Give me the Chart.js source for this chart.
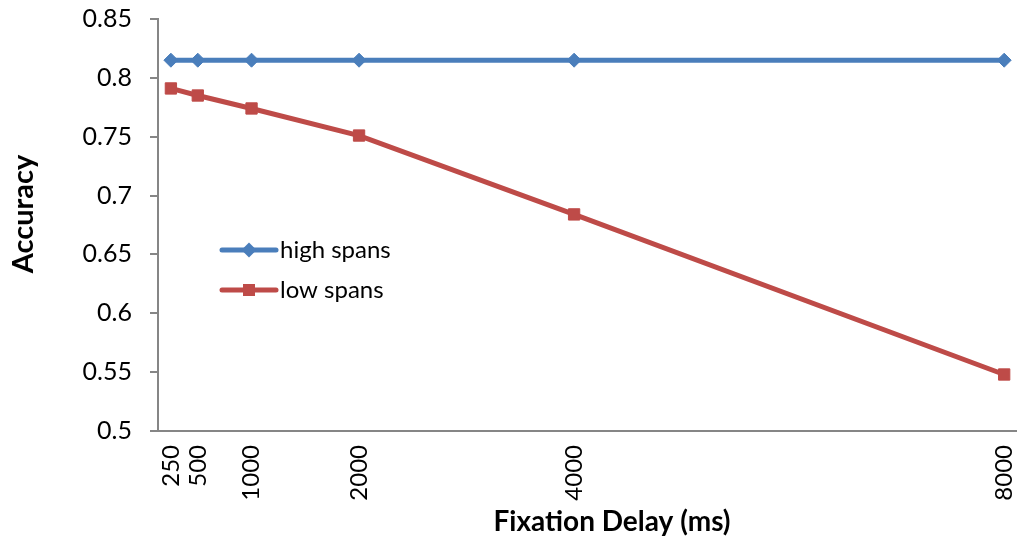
<!DOCTYPE html>
<html>
<head>
<meta charset="utf-8">
<script src="https://cdn.jsdelivr.net/npm/chart.js@4/dist/chart.umd.min.js"></script>
<style>
  html, body { margin: 0; padding: 0; background: #ffffff; }
  #wrap { width: 1019px; height: 546px; }
</style>
</head>
<body>
<div id="wrap"><canvas id="c" width="1019" height="546"></canvas></div>
<script>
// Fixation delay conditions (ms) and mean accuracy per span group
const delays = [250, 500, 1000, 2000, 4000, 8000];
const highSpans = [0.815, 0.815, 0.815, 0.815, 0.815, 0.815];
const lowSpans = [0.791, 0.785, 0.774, 0.751, 0.684, 0.548];
const seriesNames = ['high spans', 'low spans'];
const yTicks = [0.5, 0.55, 0.6, 0.65, 0.7, 0.75, 0.8, 0.85];
const xTitle = 'Fixation Delay (ms)';
const yTitle = 'Accuracy';

const FONT = 'Lato, "Open Sans", "DejaVu Sans", sans-serif';
const AXIS_GREY = '#868686';
const BLUE = '#4A7EBB';
const RED = '#BE4B48';

function markerPath(ctx, style, x, y, r) {
  ctx.beginPath();
  if (style === 'rectRot') {
    ctx.moveTo(x, y - r);
    ctx.lineTo(x + r, y);
    ctx.lineTo(x, y + r);
    ctx.lineTo(x - r, y);
  } else {
    const s = r * Math.SQRT1_2;
    ctx.rect(x - s, y - s, 2 * s, 2 * s);
  }
  ctx.closePath();
}

// Axis titles and the series key drawn inside the plot area
const titlesAndKey = {
  id: 'titlesAndKey',
  afterDraw(chart) {
    const ctx = chart.ctx;
    ctx.save();
    ctx.fillStyle = '#000000';
    ctx.textAlign = 'center';
    ctx.textBaseline = 'middle';
    ctx.font = 'bold 28px ' + FONT;
    ctx.fillText(xTitle, 612, 522);

    ctx.save();
    ctx.translate(24, 214);
    ctx.rotate(-Math.PI / 2);
    ctx.font = 'bold 29px ' + FONT;
    ctx.fillText(yTitle, 0, 0);
    ctx.restore();

    chart.data.datasets.forEach((ds, i) => {
      const y = 250 + i * 40;
      ctx.strokeStyle = ds.borderColor;
      ctx.lineWidth = ds.borderWidth;
      ctx.lineCap = 'round';
      ctx.beginPath();
      ctx.moveTo(222, y);
      ctx.lineTo(276, y);
      ctx.stroke();
      ctx.fillStyle = ds.backgroundColor;
      markerPath(ctx, ds.pointStyle, 249, y, ds.pointRadius + 0.5);
      ctx.fill();
      ctx.fillStyle = '#000000';
      ctx.textAlign = 'left';
      ctx.font = '24px ' + FONT;
      ctx.fillText(ds.label, 280, y);
    });
    ctx.restore();
  }
};

const toPoints = vals => delays.map((d, i) => ({ x: d, y: vals[i] }));

new Chart(document.getElementById('c'), {
  type: 'line',
  data: {
    datasets: [
      {
        label: seriesNames[0],
        data: toPoints(highSpans),
        borderColor: BLUE,
        backgroundColor: BLUE,
        borderWidth: 5,
        pointStyle: 'rectRot',
        pointRadius: 7,
        pointBorderWidth: 1,
        pointBackgroundColor: BLUE,
        pointBorderColor: BLUE,
        tension: 0,
        clip: false
      },
      {
        label: seriesNames[1],
        data: toPoints(lowSpans),
        borderColor: RED,
        backgroundColor: RED,
        borderWidth: 5,
        pointStyle: 'rect',
        pointRadius: 8,
        pointBorderWidth: 1,
        pointBackgroundColor: RED,
        pointBorderColor: RED,
        tension: 0,
        clip: false
      }
    ]
  },
  options: {
    responsive: false,
    animation: false,
    devicePixelRatio: 1,
    layout: { autoPadding: false, padding: { top: 19, right: 3, left: 0, bottom: 0 } },
    plugins: {
      legend: { display: false },
      tooltip: { enabled: false }
    },
    scales: {
      x: {
        type: 'linear',
        min: 130,
        max: 8110,
        afterBuildTicks: s => { s.ticks = delays.map(v => ({ value: v })); },
        afterFit: s => { s.height = 115; s.paddingLeft = 0; s.paddingRight = 0; },
        ticks: {
          minRotation: 90,
          maxRotation: 90,
          autoSkip: false,
          padding: 14,
          color: '#000000',
          font: { family: FONT, size: 24 },
          callback: v => String(v)
        },
        grid: { drawOnChartArea: false, drawTicks: false },
        border: { color: AXIS_GREY, width: 2 }
      },
      y: {
        min: 0.5,
        max: 0.85,
        afterBuildTicks: s => { s.ticks = yTicks.map(v => ({ value: v })); },
        afterFit: s => { s.width = 158; s.paddingTop = 0; s.paddingBottom = 0; },
        ticks: {
          padding: 18,
          color: '#000000',
          font: { family: FONT, size: 25 },
          callback: v => String(v)
        },
        grid: { drawOnChartArea: false, drawTicks: true, tickLength: 8, color: AXIS_GREY, lineWidth: 2 },
        border: { color: AXIS_GREY, width: 2 }
      }
    }
  },
  plugins: [titlesAndKey]
});
</script>
</body>
</html>
